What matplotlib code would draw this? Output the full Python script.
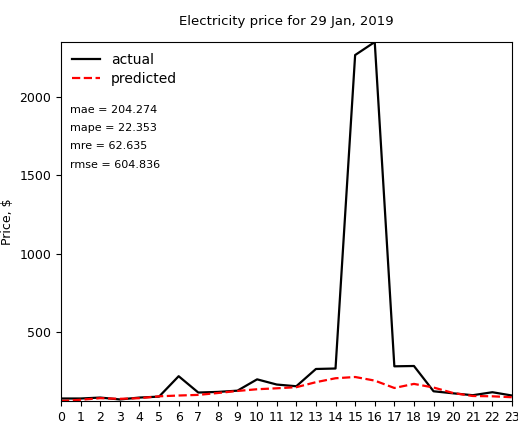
import matplotlib
matplotlib.use("Agg")
import matplotlib.pyplot as plt

hours = list(range(24))
actual = [78, 78, 84, 72, 84, 90, 220, 116, 120, 128, 200, 167, 156, 266,
          269, 2265, 2348, 283, 285, 124, 111, 99, 118, 97]
predicted = [62, 70, 80, 76, 80, 92, 97, 101, 113, 126, 137, 143, 150, 182,
             207, 215, 192, 145, 171, 148, 113, 94, 92, 86]
metrics = [("mae", 204.274), ("mape", 22.353), ("mre", 62.635), ("rmse", 604.836)]

fig = plt.figure(figsize=(5.18, 4.30), dpi=100)
ax = fig.add_axes([0.1178, 0.0674, 0.8706, 0.8349])

ax.plot(hours, actual, color="black", linewidth=1.6, label="actual")
ax.plot(hours, predicted, color="red", linewidth=1.6, linestyle="--", label="predicted")
ax.margins(0)
ax.set_xticks(hours)
ax.set_yticks([500, 1000, 1500, 2000])
ax.tick_params(labelsize=9)
ax.set_xlabel("Hours", fontsize=9)
ax.set_ylabel("Price, $", fontsize=9)
fig.suptitle("Electricity price for 29 Jan, 2019", fontsize=9.5, x=0.553, y=0.965)

ax.legend(loc="upper left", frameon=False, fontsize=10, handlelength=2.0,
          labelspacing=0.35, borderaxespad=0.4)

for i, (name, val) in enumerate(metrics):
    ax.text(0.02, 0.8106 - i * 0.0507, f"{name} = {val:.3f}", transform=ax.transAxes,
            fontsize=8, va="center")

fig.savefig("out.png", dpi=100)
